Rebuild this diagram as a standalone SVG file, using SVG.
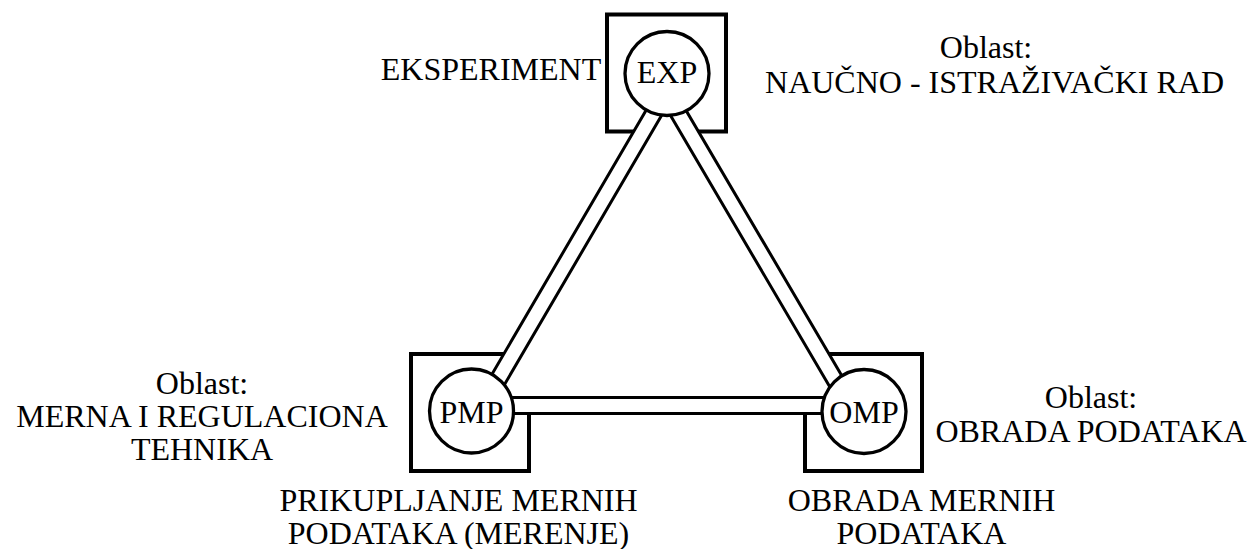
<svg xmlns="http://www.w3.org/2000/svg" width="1251" height="549" viewBox="0 0 1251 549">
<style>
  .box { fill: none; stroke: #000; stroke-width: 4; }
  .node { fill: #fff; stroke: #000; stroke-width: 3.3; }
  .band-outer { fill: #fff; stroke: #000; stroke-width: 19; stroke-linejoin: miter; }
  .band-inner { fill: none; stroke: #fff; stroke-width: 13; stroke-linejoin: miter; }
</style>
<rect width="1251" height="549" fill="#fff"/>
<g id="boxes">
  <rect class="box" x="607" y="14.5" width="119" height="117"/>
  <rect class="box" x="411" y="354" width="118" height="117"/>
  <rect class="box" x="805" y="354" width="117" height="117"/>
</g>
<g id="connectors">
  <polygon class="band-outer" points="666,92 483,405.5 850,405.5"/>
  <polygon class="band-inner" points="666,92 483,405.5 850,405.5"/>
</g>
<g font-family="Liberation Serif, Times New Roman, DejaVu Serif, serif" font-size="32" text-anchor="middle" fill="#000">
<g id="EXP">
  <circle class="node" cx="667" cy="73.5" r="42"/>
  <text x="667" y="83">EXP</text>
</g>
<g id="PMP">
  <circle class="node" cx="471.5" cy="411" r="42"/>
  <text x="471.5" y="423">PMP</text>
</g>
<g id="OMP">
  <circle class="node" cx="864" cy="411.5" r="42"/>
  <text x="864" y="423">OMP</text>
</g>
<g id="labels">
  <text x="491" y="80">EKSPERIMENT</text>
  <text x="986" y="58">Oblast:</text>
  <text x="994.5" y="92.5">NAUČNO - ISTRAŽIVAČKI RAD</text>
  <text x="202" y="393.5">Oblast:</text>
  <text x="202" y="426.5">MERNA I REGULACIONA</text>
  <text x="202" y="460">TEHNIKA</text>
  <text x="1091" y="407.5">Oblast:</text>
  <text x="1091" y="441.5">OBRADA PODATAKA</text>
  <text x="458.5" y="510.5">PRIKUPLJANJE MERNIH</text>
  <text x="458.5" y="543.5">PODATAKA (MERENJE)</text>
  <text x="921.5" y="510.5">OBRADA MERNIH</text>
  <text x="921.5" y="543.5">PODATAKA</text>
</g>
</g>
</svg>
